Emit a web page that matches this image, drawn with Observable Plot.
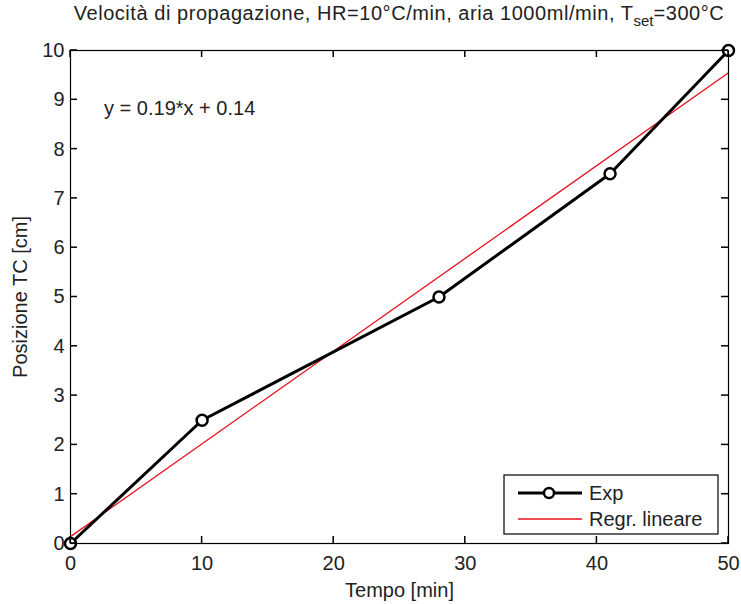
<!DOCTYPE html>
<html>
<head>
<meta charset="utf-8">
<script src="https://cdn.jsdelivr.net/npm/d3@7"></script>
<script src="https://cdn.jsdelivr.net/npm/@observablehq/plot@0.6"></script>
<style>
  body { margin: 0; background: #fff; font-family: "Liberation Sans", Arial, sans-serif; }
  #title { width: 741px; height: 36px; position: relative; }
  #title span { position: absolute; left: 399px; top: 2px; transform: translateX(-50%); white-space: nowrap; font-size: 20px; letter-spacing: 0.55px; color: #222; }
  #title sub { font-size: 15px; vertical-align: -6px; letter-spacing: 0; }
</style>
</head>
<body>
<div id="title"><span>Velocità di propagazione, HR=10°C/min, aria 1000ml/min, T<sub>set</sub>=300°C</span></div>
<div id="chart"></div>
<script>
const expTime = [0, 10, 28, 41, 50];
const expPos = [0, 2.5, 5, 7.5, 10];
const regTime = [0, 50];
const regPos = [0.14, 9.55];
const xTicks = [0, 10, 20, 30, 40, 50];
const yTicks = [0, 1, 2, 3, 4, 5, 6, 7, 8, 9, 10];
const equation = "y = 0.19*x + 0.14";
const seriesNames = ["Exp", "Regr. lineare"];

const exp = expTime.map((t, i) => ({t, p: expPos[i]}));
const reg = regTime.map((t, i) => ({t, p: regPos[i]}));

const W = 741, H = 568, ML = 70, MR = 13, MT = 14, MB = 61, TL = 7, TW = 1.5;
const xMin = 0, xMax = 50, yMin = 0, yMax = 10;

const chart = Plot.plot({
  width: W,
  height: H,
  marginLeft: ML,
  marginRight: MR,
  marginTop: MT,
  marginBottom: MB,
  style: {fontFamily: "Liberation Sans, Arial, sans-serif", fontSize: "20px", color: "#222", overflow: "visible"},
  x: {domain: [xMin, xMax]},
  y: {domain: [yMin, yMax]},
  marks: [
    Plot.line(reg, {x: "t", y: "p", stroke: "#e8101c", strokeWidth: 1.3}),
    Plot.line(exp, {x: "t", y: "p", stroke: "#000", strokeWidth: 3}),
    Plot.dot(exp, {x: "t", y: "p", r: 5.5, stroke: "#000", strokeWidth: 2.5, fill: "#fff"}),
    Plot.frame({stroke: "#000", strokeWidth: 1.2}),
    Plot.axisX(xTicks, {anchor: "bottom", tickSize: 0, tickPadding: 12, tickFormat: d => d, label: null, fontSize: 20}),
    Plot.axisY(yTicks, {anchor: "left", tickSize: 0, tickPadding: 6, tickFormat: d => d, label: null, fontSize: 20}),
    Plot.text([equation], {x: 2.55, y: 8.83, text: d => d, textAnchor: "start", fontSize: 20, letterSpacing: "0.6px"}),
    Plot.text(["Tempo [min]"], {frameAnchor: "bottom", dy: 53, text: d => d, fontSize: 20}),
    Plot.text(["Posizione TC [cm]"], {frameAnchor: "left", dx: -50, rotate: -90, textAnchor: "middle", text: d => d, fontSize: 20})
  ]
});
document.getElementById("chart").appendChild(chart);

// inward ticks on all four sides, positioned with Plot's own scales
const svg = d3.select(chart);
const sx = chart.scale("x"), sy = chart.scale("y");
const px0 = sx.apply(xMin), px1 = sx.apply(xMax), py0 = sy.apply(yMin), py1 = sy.apply(yMax);
const tg = svg.append("g").attr("fill", "#000");
xTicks.forEach(v => {
  const px = sx.apply(v);
  tg.append("rect").attr("x", px - TW / 2).attr("y", py0 - TL).attr("width", TW).attr("height", TL);
  tg.append("rect").attr("x", px - TW / 2).attr("y", py1).attr("width", TW).attr("height", TL);
});
yTicks.forEach(v => {
  const py = sy.apply(v);
  tg.append("rect").attr("x", px0).attr("y", py - TW / 2).attr("width", TL).attr("height", TW);
  tg.append("rect").attr("x", px1 - TL).attr("y", py - TW / 2).attr("width", TL).attr("height", TW);
});

// legend drawn inside the plot area (MATLAB-style boxed legend)
const lx = 504, ly = 475 - 36, lw = 214, lh = 59;
const g = svg.append("g").attr("text-anchor", "start");
g.append("rect").attr("x", lx).attr("y", ly).attr("width", lw).attr("height", lh)
  .attr("fill", "#fff").attr("stroke", "#000").attr("stroke-width", 1.2);
const rows = [
  {name: seriesNames[0], stroke: "#000", sw: 3, marker: true},
  {name: seriesNames[1], stroke: "#e8101c", sw: 1.3, marker: false}
];
rows.forEach((r, i) => {
  const cy = ly + 18 + i * 26;
  g.append("line").attr("x1", lx + 14).attr("x2", lx + 78).attr("y1", cy).attr("y2", cy)
    .attr("stroke", r.stroke).attr("stroke-width", r.sw);
  if (r.marker) g.append("circle").attr("cx", lx + 45).attr("cy", cy).attr("r", 5)
    .attr("fill", "#fff").attr("stroke", "#000").attr("stroke-width", 2.5);
  g.append("text").attr("x", lx + 85).attr("y", cy).attr("dy", "0.35em")
    .attr("font-size", 20).attr("fill", "#222").attr("text-anchor", "start").text(r.name);
});
</script>
</body>
</html>
